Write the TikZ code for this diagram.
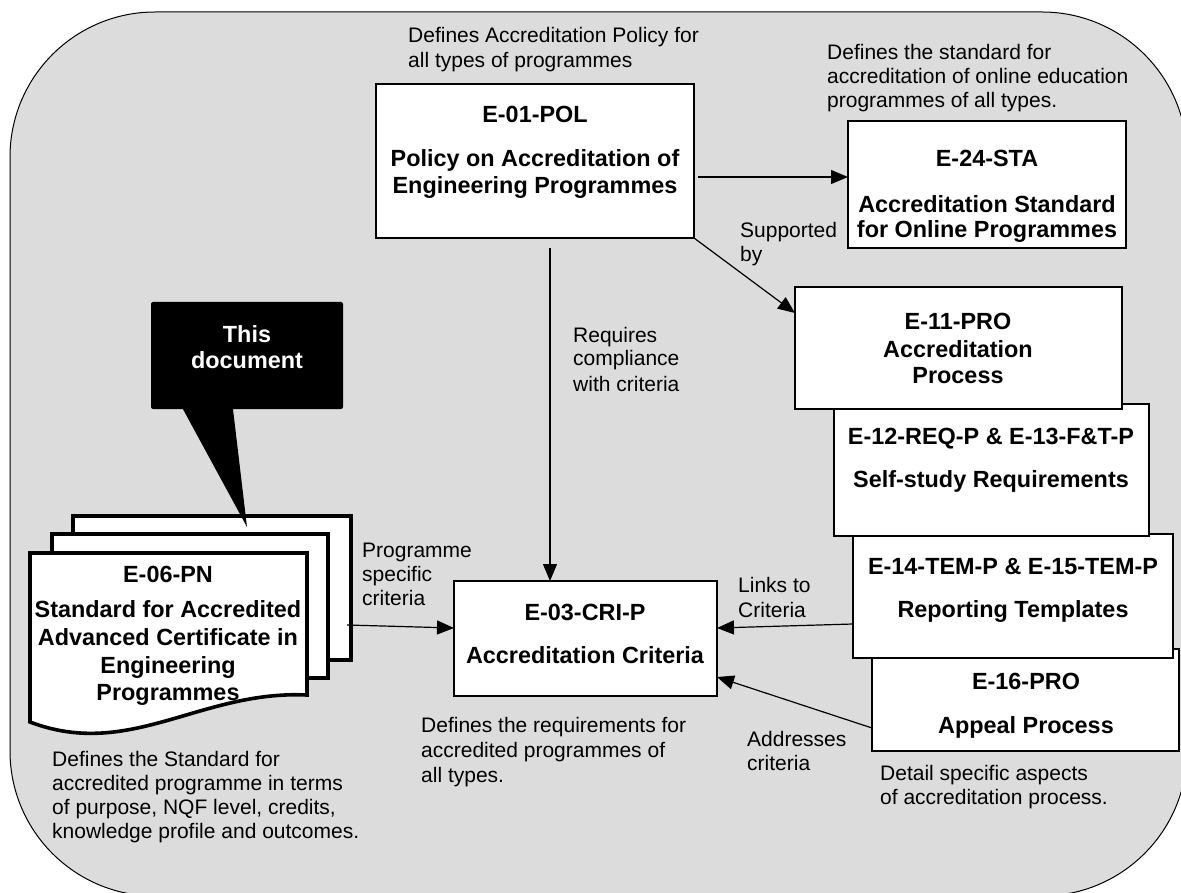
\documentclass[tikz,border=0pt]{standalone}
\usepackage{fontspec}
\setmainfont{Liberation Sans}
\usetikzlibrary{arrows.meta}
\definecolor{bggray}{HTML}{DCDCDC}
\begin{document}
\begin{tikzpicture}[x=1pt,y=-1pt,
  thinbox/.style={draw, fill=white, inner sep=0pt, outer sep=0pt, line width=1.1pt},
  midbox/.style={draw, fill=white, inner sep=0pt, outer sep=0pt, line width=2pt},
  thickbox/.style={draw, fill=white, inner sep=0pt, outer sep=0pt, line width=2.6pt},
  page/.style={draw, fill=white, inner sep=0pt, outer sep=0pt, line width=3.6pt},
  txt/.style={font=\fontsize{21}{24.7}\selectfont, anchor=base west, inner sep=0pt},
  btxt/.style={font=\bfseries\fontsize{23.4}{27}\selectfont, anchor=base, inner sep=0pt},
  conn/.style={line width=1.2pt, -{Triangle[length=17pt,width=14pt]}}]
\useasboundingbox (0,0) rectangle (1181,893);
% background
\draw[fill=bggray, line width=1pt, rounded corners=145pt] (10,12) rectangle (1187,896);
% boxes
\node[thinbox, minimum width=278pt, minimum height=127pt] (e24) at (987,184.5) {};
\node[thinbox, minimum width=318pt, minimum height=154pt] (e01) at (535,161) {};
\node[thinbox, minimum width=263pt, minimum height=115pt] (e03) at (585.5,638.5) {};
\node[midbox, minimum width=307pt, minimum height=102pt] (e16) at (1025.5,700) {};
\node[midbox, minimum width=320pt, minimum height=124pt] (e14) at (1013,596) {};
\node[midbox, minimum width=315pt, minimum height=132pt] (e12) at (991.5,470) {};
\node[thickbox, minimum width=327pt, minimum height=122pt] (e11) at (958.5,348) {};
% multi-document E-06
\node[page, minimum width=278pt, minimum height=144pt] (e06c) at (212,588) {};
\node[page, minimum width=276pt, minimum height=144pt] (e06b) at (190,606) {};
\draw[page, line join=miter] (30,553) -- (307,553) -- (307,695)
  .. controls (200,690) and (130,760) .. (30,722) -- cycle;
% callout
\node[fill=black, rounded corners=2pt, minimum width=192pt, minimum height=107pt, inner sep=0pt] (callout) at (247,355.5) {};
\coordinate (tip) at (247,527);
\fill[black] ([xshift=-64pt]callout.south) -- ([xshift=-14pt]callout.south) -- (tip) -- cycle;
% bold texts
\node[btxt] at (535,123) {E-01-POL};
\node[btxt] at (535,167) {Policy on Accreditation of};
\node[btxt] at (535,194) {Engineering Programmes};
\node[btxt] at (987,167) {E-24-STA};
\node[btxt] at (987,213) {Accreditation Standard};
\node[btxt] at (987,238) {for Online Programmes};
\node[btxt] at (958,330) {E-11-PRO};
\node[btxt] at (958,358) {Accreditation};
\node[btxt] at (958,384) {Process};
\node[btxt] at (991,444) {E-12-REQ-P \& E-13-F\&T-P};
\node[btxt] at (991,487) {Self-study Requirements};
\node[btxt] at (1013,574) {E-14-TEM-P \& E-15-TEM-P};
\node[btxt] at (1013,617) {Reporting Templates};
\node[btxt] at (1026,689) {E-16-PRO};
\node[btxt] at (1026,733) {Appeal Process};
\node[btxt] at (585,620) {E-03-CRI-P};
\node[btxt] at (585,663) {Accreditation Criteria};
\node[btxt] at (168,582) {E-06-PN};
\node[btxt] at (168,617) {Standard for Accredited};
\node[btxt] at (168,645) {Advanced Certificate in};
\node[btxt] at (168,673) {Engineering};
\node[btxt] at (168,700) {Programmes};
\node[btxt, text=white] at (247,342) {This};
\node[btxt, text=white] at (247,368) {document};
% normal labels
\node[txt] at (408,43) {Defines Accreditation Policy for};
\node[txt] at (408,68) {all types of programmes};
\node[txt] at (827,60) {Defines the standard for};
\node[txt] at (827,84) {accreditation of online education};
\node[txt] at (827,108) {programmes of all types.};
\node[txt] at (740,238) {Supported};
\node[txt] at (740,262) {by};
\node[txt] at (573,342) {Requires};
\node[txt] at (573,366) {compliance};
\node[txt] at (573,391) {with criteria};
\node[txt] at (362,557) {Programme};
\node[txt] at (362,581) {specific};
\node[txt] at (362,605) {criteria};
\node[txt] at (738,592) {Links to};
\node[txt] at (738,617) {Criteria};
\node[txt] at (747,746) {Addresses};
\node[txt] at (747,770) {criteria};
\node[txt] at (421,732) {Defines the requirements for};
\node[txt] at (421,757) {accredited programmes of};
\node[txt] at (421,782) {all types.};
\node[txt] at (880,780) {Detail specific aspects};
\node[txt] at (880,804) {of accreditation process.};
\node[txt] at (52,766) {Defines the Standard for};
\node[txt] at (52,790) {accredited programme in terms};
\node[txt] at (52,814) {of purpose, NQF level, credits,};
\node[txt] at (52,838) {knowledge profile and outcomes.};
% connectors
\draw[conn] ([shift={(4,16)}]e01.east) -- ([shift={(0,-7.5)}]e24.west);
\draw[conn] (e01.south east) -- ([shift={(0,-35)}]e11.west);
\draw[conn] ([shift={(15,10)}]e01.south) -- ([shift={(-35.5,0)}]e03.north);
\draw[conn] ([shift={(0,28)}]e14.west) -- ([shift={(0,-10.5)}]e03.east);
\draw[conn] ([shift={(0,28)}]e16.west) -- ([shift={(0,38.5)}]e03.east);
\draw[conn] ([shift={(-4,37)}]e06c.east) -- ([shift={(0,-10.5)}]e03.west);
\end{tikzpicture}
\end{document}
